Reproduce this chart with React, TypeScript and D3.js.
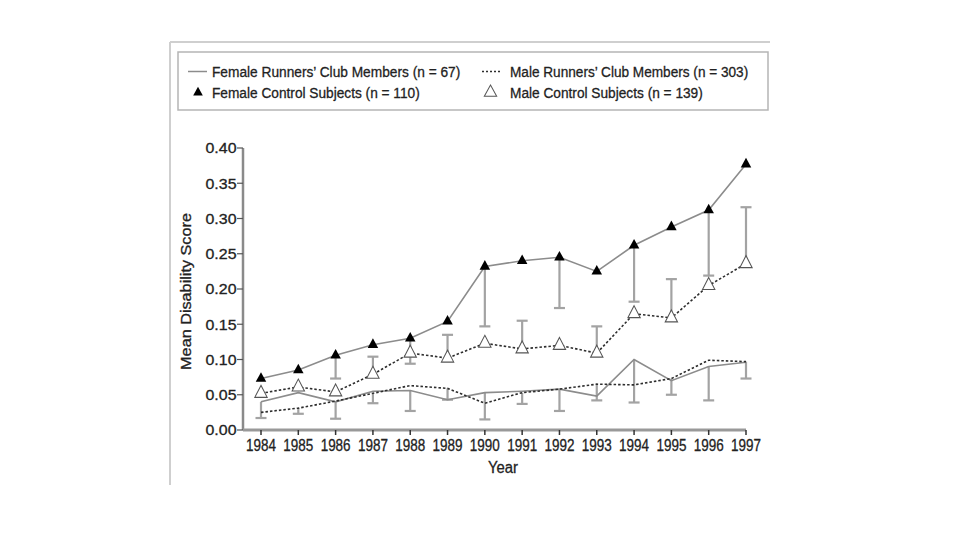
import { useMemo } from 'react';
import { scaleLinear, scalePoint, line, symbol, symbolTriangle } from 'd3';

const years = [1984, 1985, 1986, 1987, 1988, 1989, 1990, 1991, 1992, 1993, 1994, 1995, 1996, 1997];

const femaleRunners = [0.04, 0.053, 0.04, 0.055, 0.056, 0.043, 0.053, 0.055, 0.058, 0.048, 0.1, 0.07, 0.09, 0.096];
const maleRunners = [0.025, 0.031, 0.041, 0.052, 0.063, 0.059, 0.038, 0.053, 0.058, 0.065, 0.064, 0.073, 0.099, 0.097];
const femaleControl = [0.073, 0.085, 0.106, 0.121, 0.13, 0.154, 0.232, 0.24, 0.245, 0.225, 0.262, 0.288, 0.312, 0.377];
const maleControl = [0.052, 0.061, 0.054, 0.079, 0.109, 0.102, 0.123, 0.115, 0.12, 0.109, 0.165, 0.159, 0.205, 0.236];

// error bar ends (only one side is drawn in the figure)
const femaleRunnersLow = [0.017, null, 0.016, null, 0.027, null, 0.015, null, 0.027, null, 0.039, null, 0.042, null];
const maleRunnersLow = [null, 0.023, null, 0.038, null, 0.043, null, 0.037, null, 0.042, null, 0.05, null, 0.073];
const femaleControlLow = [null, null, 0.073, null, 0.094, null, 0.147, null, 0.173, null, 0.182, null, 0.219, null];
const maleControlHigh = [null, null, null, 0.104, null, 0.135, null, 0.155, null, 0.147, null, 0.214, null, 0.316];

const yTicks = [0, 0.05, 0.1, 0.15, 0.2, 0.25, 0.3, 0.35, 0.4];

const legendItems = [
  'Female Runners\u2019 Club Members (n = 67)',
  'Male Runners\u2019 Club Members (n = 303)',
  'Female Control Subjects (n = 110)',
  'Male Control Subjects (n = 139)',
];

const fontName = 'Liberation Sans';
const font = "'Liberation Sans', Arial, sans-serif";
const ink = '#222';
const barColor = '#a3a3a3';
const lightLine = '#8c8c8c';
const darkLine = '#2e2e2e';

const plot = { left: 243, right: 746, top: 148, bottom: 430 };

let ctx: CanvasRenderingContext2D | null = null;
function measure(text: string, size: number) {
  if (!ctx) ctx = document.createElement('canvas').getContext('2d');
  if (!ctx) return text.length * size * 0.55;
  ctx.font = `${size}px "${fontName}"`;
  return ctx.measureText(text).width;
}

// the figure's type is a tall, condensed face: squeeze each label to its measured width
function T(props: {
  x: number;
  y: number;
  w: number;
  size: number;
  anchor?: 'start' | 'middle' | 'end';
  rotate?: boolean;
  children: string;
}) {
  const { x, y, w, size, anchor = 'start', rotate, children } = props;
  const k = w / measure(children, size);
  return (
    <text
      transform={`translate(${x},${y})${rotate ? ' rotate(-90)' : ''} scale(${k},1)`}
      fontSize={size}
      textAnchor={anchor}
      fill={ink}
      stroke={ink}
      strokeWidth={0.3}
    >
      {children}
    </text>
  );
}

export default function App() {
  const x = useMemo(
    () => scalePoint<number>().domain(years).range([261, plot.right]),
    []
  );
  const y = useMemo(
    () => scaleLinear().domain([0, 0.4]).range([plot.bottom, plot.top]),
    []
  );

  const path = (vals: number[]) =>
    line<number>()
      .x((_, i) => x(years[i]) as number)
      .y((d) => y(d))(vals) as string;

  const filledTri = symbol().type(symbolTriangle).size(48)() as string;
  const openTri = symbol().type(symbolTriangle).size(66)() as string;
  const legendTri = symbol().type(symbolTriangle).size(40)() as string;

  const bars = (vals: number[], ends: (number | null)[], key: string) =>
    ends.map((e, i) => {
      if (e == null) return null;
      const cx = x(years[i]) as number;
      return (
        <g key={key + i} stroke={barColor} strokeWidth={2.2}>
          <line x1={cx} x2={cx} y1={y(vals[i])} y2={y(e)} />
          <line x1={cx - 5.5} x2={cx + 5.5} y1={y(e)} y2={y(e)} />
        </g>
      );
    });

  return (
    <svg
      width={960}
      height={540}
      style={{ position: 'absolute', left: 0, top: 0, background: '#fff' }}
      fontFamily={font}
    >
      {/* figure frame */}
      <line x1={170} x2={770} y1={42} y2={42} stroke="#cfcfcf" strokeWidth={2} />
      <line x1={170} x2={170} y1={42} y2={485} stroke="#cfcfcf" strokeWidth={2} />

      {/* legend */}
      <rect x={178} y={52} width={590} height={58} fill="#fff" stroke="#b5b5b5" strokeWidth={1.5} />
      <line x1={188} x2={207} y1={71.5} y2={71.5} stroke={lightLine} strokeWidth={1.5} />
      <T x={212} y={77} w={249} size={15.5}>{legendItems[0]}</T>
      <line x1={482} x2={502} y1={71.5} y2={71.5} stroke={darkLine} strokeWidth={1.5} strokeDasharray="2,2" />
      <T x={510} y={77} w={239} size={15.5}>{legendItems[1]}</T>
      <path d={legendTri} transform="translate(198,92.5) scale(1,1.05)" fill="#000" />
      <T x={212} y={97.5} w={208} size={15.5}>{legendItems[2]}</T>
      <path d={openTri} transform="translate(490.5,92.5) scale(1,1.05)" fill="#fff" stroke="#555" strokeWidth={1} />
      <T x={510} y={97.5} w={193} size={15.5}>{legendItems[3]}</T>

      {/* axes */}
      <line x1={plot.left} x2={plot.left} y1={plot.top} y2={plot.bottom} stroke="#8a8a8a" strokeWidth={2.5} />
      <line x1={plot.left} x2={plot.right} y1={plot.bottom} y2={plot.bottom} stroke="#999" strokeWidth={3} />
      {yTicks.map((t) => (
        <line key={t} x1={plot.left - 6} x2={plot.left} y1={y(t)} y2={y(t)} stroke="#555" strokeWidth={1.2} />
      ))}
      {years.map((yr) => (
        <line key={yr} x1={x(yr)} x2={x(yr)} y1={plot.bottom} y2={plot.bottom + 5} stroke="#333" strokeWidth={1.5} />
      ))}
      {yTicks.map((t) => (
        <T key={t} x={236.5} y={y(t) + 5.3} w={31} size={15} anchor="end">
          {t.toFixed(2)}
        </T>
      ))}
      {years.map((yr) => (
        <T key={yr} x={x(yr) as number} y={451} w={30} size={16} anchor="middle">
          {String(yr)}
        </T>
      ))}
      <T x={503} y={473} w={30} size={16} anchor="middle">Year</T>
      <T x={191} y={291.5} w={157} size={14} anchor="middle" rotate>
        Mean Disability Score
      </T>

      {/* error bars */}
      {bars(femaleRunners, femaleRunnersLow, 'fr')}
      {bars(maleRunners, maleRunnersLow, 'mr')}
      {bars(femaleControl, femaleControlLow, 'fc')}
      {bars(maleControl, maleControlHigh, 'mc')}

      {/* series lines */}
      <path d={path(femaleRunners)} fill="none" stroke={lightLine} strokeWidth={1.6} />
      <path d={path(maleRunners)} fill="none" stroke={darkLine} strokeWidth={1.6} strokeDasharray="2.5,2" />
      <path d={path(femaleControl)} fill="none" stroke={lightLine} strokeWidth={1.6} />
      <path d={path(maleControl)} fill="none" stroke={darkLine} strokeWidth={1.6} strokeDasharray="2.5,2" />

      {/* markers */}
      {maleControl.map((v, i) => (
        <path
          key={'mo' + i}
          d={openTri}
          transform={`translate(${x(years[i])},${y(v)}) scale(1,1.12)`}
          fill="#fff"
          stroke="#555"
          strokeWidth={1}
        />
      ))}
      {femaleControl.map((v, i) => (
        <path
          key={'fo' + i}
          d={filledTri}
          transform={`translate(${x(years[i])},${y(v)}) scale(1,1.05)`}
          fill="#000"
        />
      ))}
    </svg>
  );
}
